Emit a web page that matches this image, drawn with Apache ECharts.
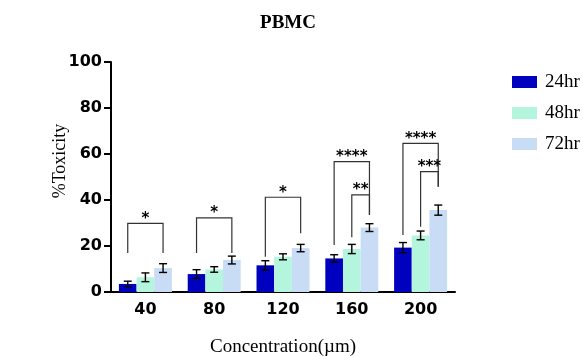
<!DOCTYPE html>
<html>
<head>
<meta charset="utf-8">
<script src="https://cdn.jsdelivr.net/npm/echarts@6/dist/echarts.min.js"></script>
<style>html,body{margin:0;padding:0;background:#fff}#c{width:583px;height:356px}</style>
</head>
<body>
<div id="c"></div>
<script>
const categories = ['40', '80', '120', '160', '200'];
const seriesNames = ['24hr', '48hr', '72hr'];
const values24 = [3.5, 7.8, 11.6, 14.6, 19.3];
const values48 = [6.4, 9.8, 15.3, 18.7, 24.6];
const values72 = [10.4, 13.9, 19.1, 28.0, 35.6];
const err24 = [1.2, 1.9, 2.0, 1.6, 2.2];
const err48 = [1.9, 1.2, 1.3, 2.0, 1.9];
const err72 = [1.9, 1.7, 1.6, 1.7, 2.2];
const yTicks = [0, 20, 40, 60, 80, 100];
// significance brackets: [categoryIndex, fromSeries, toSeries, topValue, leftLegEnd, rightLegEnd]
const brackets = [
  [0, 0, 2, 29.8, 17.0, 17.0],
  [1, 0, 2, 32.2, 17.0, 17.0],
  [2, 0, 2, 41.2, 15.3, 25.5],
  [3, 0, 2, 56.7, 20.4, 33.5],
  [3, 1, 2, 42.2, 23.8, 33.5],
  [4, 0, 2, 64.6, 24.8, 45.8],
  [4, 1, 2, 52.3, 28.4, 45.8]
];
const bracketLabels = ['*', '*', '*', '****', '**', '****', '***'];

const colors = ['#0000bf', '#b4f5de', '#c8dcf6'];
const CAT_GAP = 0.23;

const allVals = [values24, values48, values72];
const allErrs = [err24, err48, err72];
const errData = [];
allVals.forEach((arr, s) => arr.forEach((v, i) => errData.push([i, s, v, allErrs[s][i]])));

function barOffset(api, s) {
  const band = api.size([1, 0])[0];
  const bw = band * (1 - CAT_GAP) / 3;
  return (s - 1) * bw;
}

const chart = echarts.init(document.getElementById('c'));
chart.setOption({
  animation: false,
  title: {
    text: 'PBMC',
    left: 283,
    textAlign: 'center',
    top: 9,
    textStyle: { fontFamily: 'Liberation Serif', fontWeight: 'bold', fontSize: 19, color: '#000' }
  },
  legend: {
    data: seriesNames,
    orient: 'vertical',
    left: 507,
    top: 67,
    itemWidth: 25,
    itemHeight: 12,
    itemGap: 11,
    icon: 'rect',
    textStyle: { fontFamily: 'Liberation Serif', fontSize: 19, color: '#000', lineHeight: 20, padding: [0, 0, 0, 3] }
  },
  grid: { left: 111, right: 128, top: 62, bottom: 64, containLabel: false, outerBoundsMode: 'none' },
  xAxis: {
    type: 'category',
    data: categories,
    name: 'Concentration(\u00b5m)',
    nameLocation: 'middle',
    nameGap: 46,
    nameMoveOverlap: false,
    nameTextStyle: { fontFamily: 'Liberation Serif', fontSize: 19, color: '#000' },
    axisLine: { lineStyle: { color: '#000', width: 2 } },
    axisTick: { alignWithLabel: true, length: 6, lineStyle: { color: '#000', width: 2 } },
    axisLabel: { fontFamily: 'DejaVu Sans', fontWeight: 'bold', fontSize: 16, color: '#000', margin: 10 }
  },
  yAxis: {
    type: 'value',
    min: yTicks[0],
    max: yTicks[yTicks.length - 1],
    interval: yTicks[1] - yTicks[0],
    name: '%Toxicity',
    nameLocation: 'middle',
    nameGap: 42,
    nameMoveOverlap: false,
    nameTextStyle: { fontFamily: 'Liberation Serif', fontSize: 18, color: '#000', padding: [0, 0, 0, 32] },
    axisLine: { show: true, lineStyle: { color: '#000', width: 2 } },
    axisTick: { show: true, length: 7, lineStyle: { color: '#000', width: 2 } },
    splitLine: { show: false },
    axisLabel: { fontFamily: 'DejaVu Sans', fontWeight: 'bold', fontSize: 16, color: '#000', margin: 9 }
  },
  series: [
    { name: seriesNames[0], type: 'bar', data: values24, itemStyle: { color: colors[0] }, barGap: '0%', barCategoryGap: (CAT_GAP * 100) + '%' },
    { name: seriesNames[1], type: 'bar', data: values48, itemStyle: { color: colors[1] } },
    { name: seriesNames[2], type: 'bar', data: values72, itemStyle: { color: colors[2] } },
    {
      type: 'custom',
      name: 'err',
      z: 5,
      data: errData,
      encode: { x: 0, y: 2 },
      renderItem: function (params, api) {
        const cat = api.value(0), s = api.value(1), v = api.value(2), e = api.value(3);
        const c = api.coord([cat, v]);
        const x = c[0] + barOffset(api, s);
        const yHi = api.coord([cat, v + e])[1];
        const yLo = api.coord([cat, v - e])[1];
        const h = 4;
        const st = { stroke: '#000', lineWidth: 1.4 };
        return {
          type: 'group',
          children: [
            { type: 'line', shape: { x1: x, y1: yHi, x2: x, y2: yLo }, style: st },
            { type: 'line', shape: { x1: x - h, y1: yHi, x2: x + h, y2: yHi }, style: st },
            { type: 'line', shape: { x1: x - h, y1: yLo, x2: x + h, y2: yLo }, style: st }
          ]
        };
      }
    },
    {
      type: 'custom',
      name: 'sig',
      z: 6,
      data: brackets,
      encode: { x: 0, y: 3 },
      renderItem: function (params, api) {
        const cat = api.value(0), s1 = api.value(1), s2 = api.value(2);
        const top = api.value(3), lEnd = api.value(4), rEnd = api.value(5);
        const c = api.coord([cat, top]);
        const x1 = c[0] + barOffset(api, s1);
        const x2 = c[0] + barOffset(api, s2);
        const yl = api.coord([cat, lEnd])[1];
        const yr = api.coord([cat, rEnd])[1];
        const st = { stroke: '#333', lineWidth: 1.2 };
        return {
          type: 'group',
          children: [
            { type: 'polyline', shape: { points: [[x1, yl], [x1, c[1]], [x2, c[1]], [x2, yr]] }, style: Object.assign({ fill: 'none' }, st) },
            { type: 'text', x: (x1 + x2) / 2, y: c[1] + 3, style: { text: bracketLabels[params.dataIndex], fontFamily: 'DejaVu Sans', fontSize: 15, fontWeight: 'bold', fill: '#000', align: 'center', verticalAlign: 'bottom' } }
          ]
        };
      }
    }
  ]
});
</script>
</body>
</html>
